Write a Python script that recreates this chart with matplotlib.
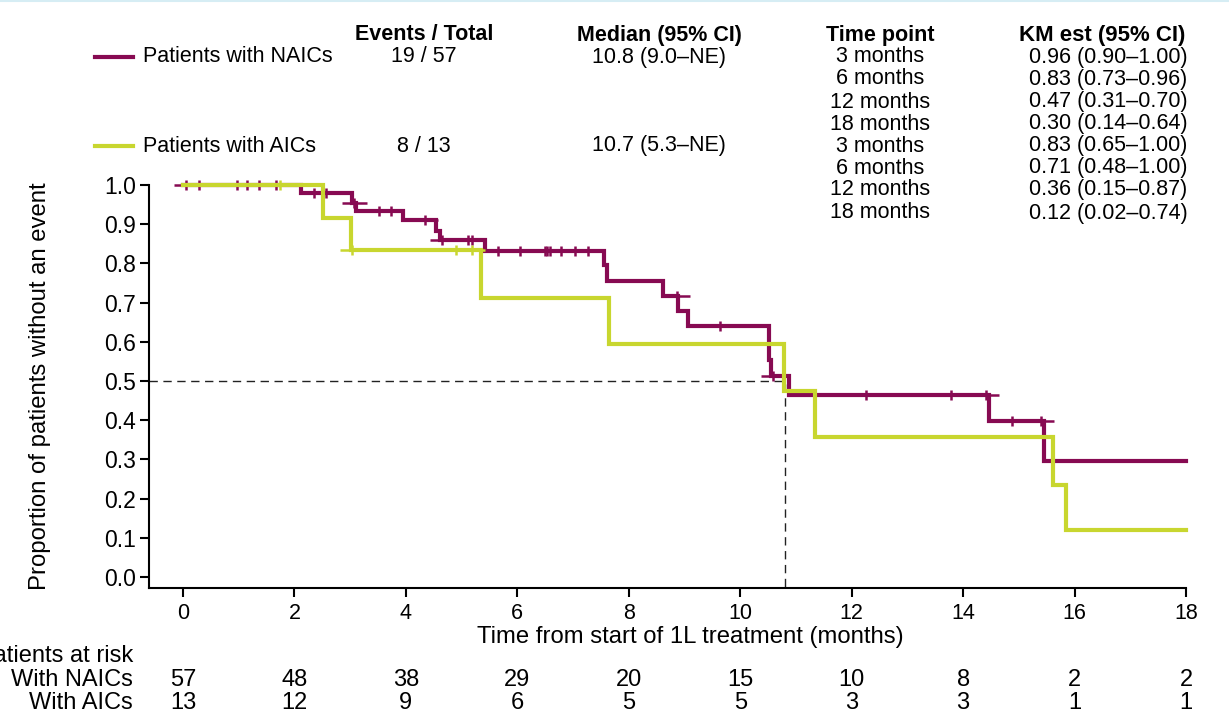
import numpy as np
import matplotlib
matplotlib.use("Agg")
import matplotlib.pyplot as plt
from matplotlib.path import Path
from matplotlib.lines import Line2D
import matplotlib.transforms as mtransforms

plt.rcParams['font.family'] = ['Liberation Sans', 'DejaVu Sans']

# ---------------- data ----------------
naic_times = [0, 2.11, 3.04, 3.10, 3.95, 4.54, 4.62, 5.42, 7.55, 7.61, 8.62, 8.89, 9.07,
              10.51, 10.56, 10.87, 14.47, 15.45, 18.0]
naic_surv = [1.0, 0.980, 0.955, 0.934, 0.911, 0.883, 0.860, 0.832, 0.797, 0.756, 0.718,
             0.679, 0.640, 0.554, 0.514, 0.464, 0.399, 0.297, 0.297]
naic_censor = [0.05, 0.29, 0.97, 1.14, 1.37, 1.67, 2.36, 2.57, 3.06, 3.51, 3.74, 4.35,
               4.64, 5.12, 5.18, 5.65, 6.04, 6.49, 6.53, 6.58, 6.79, 7.03, 7.26, 8.87,
               9.64, 10.58, 12.25, 13.78, 14.41, 14.88, 15.40]

aic_times = [0, 2.52, 3.02, 5.35, 7.64, 10.79, 11.35, 15.62, 15.85, 18.0]
aic_surv = [1.0, 0.917, 0.834, 0.713, 0.594, 0.475, 0.358, 0.235, 0.120, 0.120]
aic_censor = [1.74, 3.04, 4.90, 5.19]

median_naic = 10.8

x_ticks = [0, 2, 4, 6, 8, 10, 12, 14, 16, 18]
y_ticks = [0.0, 0.1, 0.2, 0.3, 0.4, 0.5, 0.6, 0.7, 0.8, 0.9, 1.0]
risk_naic = [57, 48, 38, 29, 20, 15, 10, 8, 2, 2]
risk_aic = [13, 12, 9, 6, 5, 5, 3, 3, 1, 1]

series_names = ["Patients with NAICs", "Patients with AICs"]
events_total = ["19 / 57", "8 / 13"]
medians = ["10.8 (9.0–NE)", "10.7 (5.3–NE)"]
time_points = ["3 months", "6 months", "12 months", "18 months",
               "3 months", "6 months", "12 months", "18 months"]
km_est = ["0.96 (0.90–1.00)", "0.83 (0.73–0.96)", "0.47 (0.31–0.70)", "0.30 (0.14–0.64)",
          "0.83 (0.65–1.00)", "0.71 (0.48–1.00)", "0.36 (0.15–0.87)", "0.12 (0.02–0.74)"]

# ---------------- style ----------------
C_NAIC = "#870a52"
C_AIC = "#c8d62f"
W, H = 1229, 711
FS_HEAD = 15.5
FS_AXLAB = 17.2
FS_YTICK = 16.5
FS_XTICK = 15.5
FS_RISK = 17

def P(x, y):
    return x / W, 1 - y / H

fig = plt.figure(figsize=(W / 100, H / 100), dpi=100)
ax = fig.add_axes([149 / W, 1 - 588 / H, (1186 - 149) / W, (588 - 185) / H])

plus = Path([(-1, 0), (1, 0), (0, -0.4), (0, 0.4)],
            [Path.MOVETO, Path.LINETO, Path.MOVETO, Path.LINETO])

def level_at(times, surv, t):
    i = np.searchsorted(times, t, side='right') - 1
    return surv[i]

# median reference lines
xmin, ymin = -0.61, -0.028
ax.plot([xmin, median_naic, median_naic], [0.5, 0.5, ymin], color="#222222",
        lw=1.0, dashes=(6, 4), zorder=1, clip_on=False)

for times, surv, cens, col, z in [(naic_times, naic_surv, naic_censor, C_NAIC, 2),
                                  (aic_times, aic_surv, aic_censor, C_AIC, 4)]:
    ax.step(times, surv, where='post', color=col, lw=3.0, zorder=z, clip_on=False,
            solid_joinstyle='miter')
    cy = [level_at(times, surv, c) for c in cens]
    ax.plot(cens, cy, linestyle='none', marker=plus, markersize=18, mew=1.8,
            mec=col, mfc='none', zorder=z + 1, clip_on=False)

ax.set_xlim(xmin, 18)
ax.set_ylim(ymin, 1.0)
ax.set_xticks(x_ticks)
ax.set_yticks(y_ticks)
ax.set_yticklabels([f"{v:.1f}" for v in y_ticks])
ax.spines['top'].set_visible(False)
ax.spines['right'].set_visible(False)
for s in ['left', 'bottom']:
    ax.spines[s].set_linewidth(1.5)
ax.spines['left'].set_bounds(ymin, 1.0)
ax.tick_params(axis='both', direction='out', length=6.5, width=1.5)
ax.tick_params(axis='x', pad=4, labelsize=FS_XTICK)
ax.tick_params(axis='y', pad=3, labelsize=FS_YTICK)

# axis labels
fig.text(*P(40, 386), "Proportion of patients without an event", rotation=90,
         ha='center', va='center', fontsize=FS_AXLAB)
fig.text(*P(690, 637), "Time from start of 1L treatment (months)",
         ha='center', va='center', fontsize=FS_AXLAB)

# header / legend table
fig.text(*P(424, 35), "Events / Total", ha='center', va='center', fontsize=FS_HEAD, weight='bold')
fig.text(*P(659, 35), "Median (95% CI)", ha='center', va='center', fontsize=FS_HEAD, weight='bold')
fig.text(*P(880, 35), "Time point", ha='center', va='center', fontsize=FS_HEAD, weight='bold')
fig.text(*P(1102, 35), "KM est (95% CI)", ha='center', va='center', fontsize=FS_HEAD + 0.5,
         weight='bold')

for name, ev, med, yy, col in zip(series_names, events_total, medians, [57, 146], [C_NAIC, C_AIC]):
    fig.add_artist(Line2D([95 / W, 133 / W], [1 - yy / H, 1 - yy / H],
                          transform=fig.transFigure, color=col, lw=3.0))
    fig.text(*P(143, yy), name, ha='left', va='center', fontsize=FS_HEAD)
    fig.text(*P(424, yy), ev, ha='center', va='center', fontsize=FS_HEAD)
    fig.text(*P(659, yy), med, ha='center', va='center', fontsize=FS_HEAD)

row_y = [57, 79, 102, 124, 146, 168, 190, 213]
for tp, km, yy in zip(time_points, km_est, row_y):
    fig.text(*P(880, yy), tp, ha='center', va='center', fontsize=FS_HEAD)
    fig.text(*P(1108, yy), km, ha='center', va='center', fontsize=FS_HEAD)

# at-risk table
fig.text(*P(133, 656), "Patients at risk", ha='right', va='center', fontsize=FS_RISK)
fig.text(*P(133, 680), "With NAICs", ha='right', va='center', fontsize=FS_RISK)
fig.text(*P(133, 703), "With AICs", ha='right', va='center', fontsize=FS_RISK)
trans = mtransforms.blended_transform_factory(ax.transData, fig.transFigure)
for xt, a, b in zip(x_ticks, risk_naic, risk_aic):
    ax.text(xt, 1 - 680 / H, str(a), transform=trans, ha='center', va='center',
            fontsize=FS_RISK, clip_on=False)
    ax.text(xt, 1 - 703 / H, str(b), transform=trans, ha='center', va='center',
            fontsize=FS_RISK, clip_on=False)

# thin top border line
fig.add_artist(Line2D([0, 1], [1 - 1 / H, 1 - 1 / H], transform=fig.transFigure,
                      color="#d6edf4", lw=1.5))

fig.savefig("out.png", dpi=100)
